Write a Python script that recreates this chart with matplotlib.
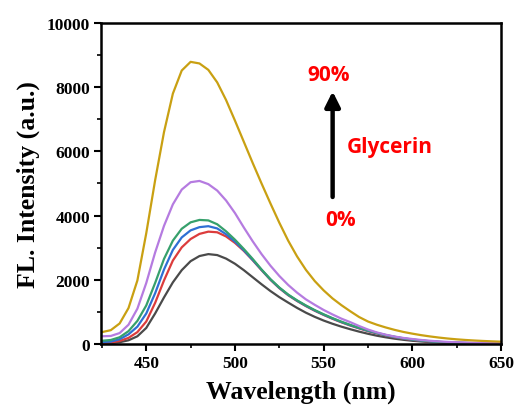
import matplotlib
matplotlib.use("Agg")
import matplotlib.pyplot as plt
from matplotlib.ticker import MultipleLocator

wavelength = list(range(425, 651, 5))

gold = [370, 430, 640, 1120, 1980, 3450, 5100, 6600, 7800, 8520, 8790, 8740, 8540, 8150, 7600,
        6960, 6300, 5640, 5000, 4380, 3780, 3220, 2730, 2310, 1960, 1670, 1420, 1210, 1020, 840,
        700, 600, 515, 440, 375, 322, 275, 235, 200, 170, 145, 125, 108, 94, 82, 72]
purple = [240, 250, 340, 600, 1100, 1900, 2850, 3680, 4350, 4810, 5040, 5080, 4980, 4780, 4470,
          4080, 3630, 3200, 2800, 2440, 2120, 1840, 1600, 1390, 1220, 1060, 920, 790, 680, 560,
          450, 360, 290, 232, 188, 155, 125, 100, 80, 65, 54, 45, 38, 33, 29, 26]
green = [100, 125, 210, 400, 720, 1200, 1900, 2650, 3220, 3590, 3790, 3865, 3850, 3730, 3510,
         3250, 2960, 2650, 2320, 2020, 1760, 1540, 1360, 1200, 1055, 925, 805, 695, 595, 505,
         420, 345, 280, 225, 178, 140, 110, 86, 67, 52, 41, 32, 25, 20, 16, 13]
blue = [60, 75, 150, 300, 540, 950, 1580, 2320, 2930, 3320, 3540, 3640, 3670, 3600, 3420,
        3190, 2920, 2620, 2310, 2010, 1750, 1530, 1350, 1190, 1045, 915, 795, 685, 585, 495,
        410, 337, 273, 218, 172, 135, 106, 82, 64, 50, 39, 30, 24, 19, 15, 12]
red = [30, 45, 95, 190, 370, 700, 1280, 1980, 2600, 3010, 3270, 3430, 3500, 3480, 3350,
       3150, 2900, 2610, 2300, 2000, 1740, 1520, 1340, 1180, 1035, 905, 785, 675, 575, 485,
       400, 330, 265, 210, 165, 130, 100, 78, 60, 47, 37, 29, 23, 18, 14, 11]
black = [20, 28, 55, 115, 240, 500, 950, 1450, 1920, 2300, 2580, 2740, 2800, 2770, 2660,
         2500, 2300, 2080, 1860, 1650, 1460, 1290, 1125, 975, 845, 730, 630, 540, 460, 385,
         318, 258, 208, 165, 130, 100, 78, 60, 47, 37, 30, 24, 19, 15, 12, 9]

series = [
    (black, "#4a4a4a"),
    (red, "#dc3c3c"),
    (blue, "#2e6fd4"),
    (green, "#36a06c"),
    (purple, "#b57be0"),
    (gold, "#c9a012"),
]

xticks = [450, 500, 550, 600, 650]
yticks = [0, 2000, 4000, 6000, 8000, 10000]

fig = plt.figure(figsize=(5.17, 4.14), dpi=100)
ax = fig.add_axes([0.1954, 0.1667, 0.7737, 0.7753])

for vals, col in series:
    ax.plot(wavelength, vals, color=col, lw=1.6, solid_joinstyle="round")

ax.set_xlim(424.5, 650)
ax.set_ylim(0, 10000)
ax.set_xticks(xticks)
ax.set_yticks(yticks)
ax.xaxis.set_minor_locator(MultipleLocator(25))
ax.yaxis.set_minor_locator(MultipleLocator(1000))

serif = "Liberation Serif"
for lab in ax.get_xticklabels() + ax.get_yticklabels():
    lab.set_fontfamily(serif)
    lab.set_fontweight("bold")
    lab.set_fontsize(12.5)

ax.tick_params(which="major", direction="out", length=5, width=1.5, top=False, right=False, pad=3)
ax.tick_params(which="minor", direction="out", length=3, width=1.2, top=False, right=False)
for sp in ax.spines.values():
    sp.set_linewidth(1.8)

ax.set_xlabel("Wavelength (nm)", fontfamily=serif, fontweight="bold", fontsize=18.5, labelpad=6)
ax.set_ylabel("FL. Intensity (a.u.)", fontfamily=serif, fontweight="bold", fontsize=18.5, labelpad=5)

sans = "Open Sans"
ax.text(0.57, 0.841, "90%", transform=ax.transAxes, color="#ff0000", fontfamily=sans,
        fontweight="bold", fontsize=15, ha="center", va="center")
ax.text(0.614, 0.614, "Glycerin", transform=ax.transAxes, color="#ff0000", fontfamily=sans,
        fontweight="bold", fontsize=15, ha="left", va="center")
ax.text(0.599, 0.387, "0%", transform=ax.transAxes, color="#ff0000", fontfamily=sans,
        fontweight="bold", fontsize=15, ha="center", va="center")
ax.annotate("", xy=(0.579, 0.787), xytext=(0.579, 0.458), xycoords="axes fraction",
            arrowprops=dict(arrowstyle="-|>,head_length=0.9,head_width=0.45", color="black", lw=3.2,
                            shrinkA=0, shrinkB=0))

fig.savefig("out.png", dpi=100)
